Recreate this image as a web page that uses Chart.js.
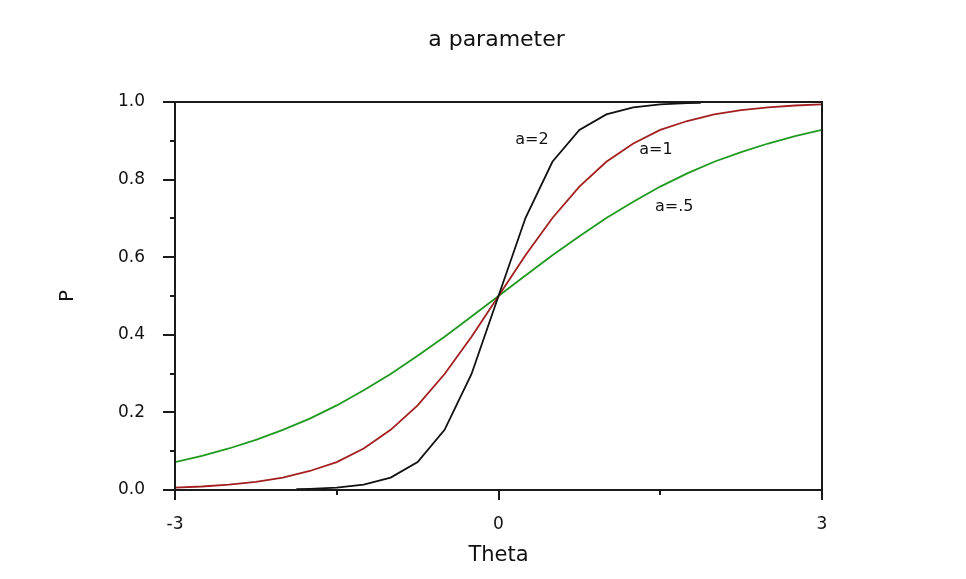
<!DOCTYPE html>
<html>
<head>
<meta charset="utf-8">
<script src="https://cdn.jsdelivr.net/npm/chart.js@4/dist/chart.umd.min.js"></script>
<style>
  html, body { margin: 0; padding: 0; background: #ffffff; }
  #wrap { width: 966px; height: 579px; position: relative; }
</style>
</head>
<body>
<div id="wrap"><canvas id="c"></canvas></div>
<script>
// ---- data ----
const thetaFull = [-3, -2.75, -2.5, -2.25, -2, -1.75, -1.5, -1.25, -1, -0.75, -0.5, -0.25, 0,
                   0.25, 0.5, 0.75, 1, 1.25, 1.5, 1.75, 2, 2.25, 2.5, 2.75, 3];
const pA05 = [0.072, 0.088, 0.107, 0.129, 0.155, 0.184, 0.218, 0.257, 0.299, 0.346, 0.395, 0.447, 0.5,
              0.553, 0.605, 0.654, 0.701, 0.743, 0.782, 0.816, 0.846, 0.871, 0.893, 0.912, 0.928];
const pA1 = [0.006, 0.009, 0.014, 0.021, 0.032, 0.049, 0.072, 0.107, 0.155, 0.218, 0.299, 0.395, 0.5,
             0.605, 0.701, 0.782, 0.846, 0.893, 0.928, 0.951, 0.968, 0.979, 0.986, 0.991, 0.994];
const thetaA2 = [-1.875, -1.75, -1.5, -1.25, -1, -0.75, -0.5, -0.25, 0, 0.25, 0.5, 0.75, 1, 1.25, 1.5, 1.75, 1.875];
const pA2 = [0.002, 0.003, 0.006, 0.014, 0.032, 0.072, 0.155, 0.299, 0.5, 0.701, 0.846, 0.928, 0.968, 0.986, 0.994, 0.997, 0.998];

const seriesNames = ['a=2', 'a=1', 'a=.5'];
const labelTheta = [0.31, 1.46, 1.63];
const labelP = [0.902, 0.876, 0.73];

const xMajorTicks = [-3, 0, 3];
const xTickLabels = ['-3', '0', '3'];
const xMinorTicks = [-1.5, 1.5];
const yMajorTicks = [0, 0.2, 0.4, 0.6, 0.8, 1.0];
const yTickLabels = ['0.0', '0.2', '0.4', '0.6', '0.8', '1.0'];
const yMinorTicks = [0.1, 0.3, 0.5, 0.7, 0.9];

const titleText = 'a parameter';
const xTitle = 'Theta';
const yTitle = 'P';

// ---- build ----
const toPts = (xs, ys) => xs.map((x, i) => ({ x: x, y: ys[i] }));
const FONT = "'DejaVu Sans', sans-serif";
const AXIS_COLOR = '#1a1a1a';

const framePlugin = {
  id: 'frame',
  afterDatasetsDraw(chart) {
    const ctx = chart.ctx;
    const xs = chart.scales.x, ys = chart.scales.y;
    const a = chart.chartArea;
    ctx.save();
    ctx.strokeStyle = AXIS_COLOR;
    ctx.lineWidth = 2;
    ctx.beginPath();
    ctx.rect(a.left, a.top, a.right - a.left, a.bottom - a.top);
    ctx.stroke();
    ctx.beginPath();
    xMajorTicks.forEach(v => { const p = Math.round(xs.getPixelForValue(v)); ctx.moveTo(p, a.bottom); ctx.lineTo(p, a.bottom + 10); });
    xMinorTicks.forEach(v => { const p = Math.round(xs.getPixelForValue(v)); ctx.moveTo(p, a.bottom); ctx.lineTo(p, a.bottom + 5); });
    yMajorTicks.forEach(v => { const p = Math.round(ys.getPixelForValue(v)); ctx.moveTo(a.left, p); ctx.lineTo(a.left - 12, p); });
    yMinorTicks.forEach(v => { const p = Math.round(ys.getPixelForValue(v)); ctx.moveTo(a.left, p); ctx.lineTo(a.left - 5, p); });
    ctx.stroke();
    // curve labels
    ctx.fillStyle = '#111';
    ctx.font = '16px ' + FONT;
    ctx.textAlign = 'center';
    ctx.textBaseline = 'middle';
    seriesNames.forEach((t, i) => {
      ctx.fillText(t, xs.getPixelForValue(labelTheta[i]), ys.getPixelForValue(labelP[i]));
    });
    // chart title
    ctx.font = '22px ' + FONT;
    ctx.fillText(titleText, (a.left + a.right) / 2 - 2, 40);
    ctx.restore();
  }
};

new Chart(document.getElementById('c'), {
  type: 'scatter',
  data: {
    datasets: [
      { label: seriesNames[0], data: toPts(thetaA2, pA2), showLine: true, borderColor: '#111111', borderWidth: 1.8, pointRadius: 0, tension: 0, fill: false },
      { label: seriesNames[1], data: toPts(thetaFull, pA1), showLine: true, borderColor: '#a31f1f', borderWidth: 1.8, pointRadius: 0, tension: 0, fill: false },
      { label: seriesNames[2], data: toPts(thetaFull, pA05), showLine: true, borderColor: '#1f9a1f', borderWidth: 1.8, pointRadius: 0, tension: 0, fill: false }
    ]
  },
  options: {
    responsive: true,
    maintainAspectRatio: false,
    animation: false,
    layout: { padding: { top: 102, right: 144, left: 0, bottom: 0 } },
    plugins: { legend: { display: false }, title: { display: false }, tooltip: { enabled: false } },
    scales: {
      x: {
        type: 'linear', min: -3, max: 3,
        grid: { display: false }, border: { display: false },
        afterBuildTicks: s => { s.ticks = xMajorTicks.map(v => ({ value: v })); },
        afterFit: s => { s.height = 89; },
        ticks: {
          padding: 16, color: '#111', font: { family: FONT, size: 17 }, maxRotation: 0, autoSkip: false,
          callback: v => { const i = xMajorTicks.indexOf(v); return i >= 0 ? xTickLabels[i] : ''; }
        },
        title: { display: true, text: xTitle, color: '#111', font: { family: FONT, size: 21 }, padding: { bottom: 11 } }
      },
      y: {
        type: 'linear', min: 0, max: 1,
        grid: { display: false }, border: { display: false },
        afterBuildTicks: s => { s.ticks = yMajorTicks.map(v => ({ value: v })); },
        afterFit: s => { s.width = 175; },
        ticks: {
          padding: 22, color: '#111', font: { family: FONT, size: 17 }, autoSkip: false,
          callback: v => { const i = yMajorTicks.findIndex(t => Math.abs(t - v) < 1e-9); return i >= 0 ? yTickLabels[i] : ''; }
        },
        title: { display: true, text: yTitle, color: '#111', font: { family: FONT, size: 20 }, padding: { top: 56 } }
      }
    }
  },
  plugins: [framePlugin]
});
</script>
</body>
</html>
